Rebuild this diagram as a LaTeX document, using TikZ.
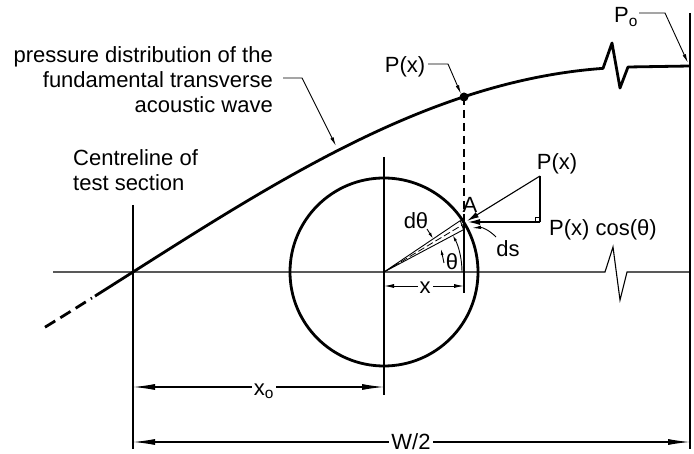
\documentclass[tikz,border=0pt]{standalone}
\usepackage{fontspec}
\setmainfont{Liberation Sans}
\usetikzlibrary{arrows.meta}
\begin{document}
\begin{tikzpicture}[x=1pt,y=-1pt,
  lbl/.style={inner sep=0pt,font=\fontsize{22}{25}\selectfont},
  thinline/.style={line width=1.1pt},
  heavy/.style={line width=2.8pt,line join=round},
  leader/.style={line width=0.9pt,-{Latex[length=9pt,width=3.5pt]}},
  force/.style={line width=1.1pt,-{Latex[length=12pt,width=6pt]}},
  dimline/.style={line width=1.1pt,{Latex[length=22pt,width=6pt]}-{Latex[length=22pt,width=6pt]}},
  smallarrow/.style={line width=0.9pt,-{Latex[length=6pt,width=3pt]}},
  gap/.style={lbl,fill=white,inner sep=2pt}]
\useasboundingbox (0,0) rectangle (694,454);

% key points
\coordinate (C) at (384,272);
\coordinate (A) at (464,222);
\coordinate (dot) at (464,97);
\coordinate (axL) at (53,272);
\coordinate (axR) at (690,272);
\coordinate (clTop) at (133,205);
\coordinate (clBot) at (133,449);
\coordinate (rTop) at (690,13);
\coordinate (rBot) at (690,449);
\coordinate (cTop) at (384,157);
\coordinate (cBot) at (384,395);
\coordinate (xBot) at (464,293);

% axis with break
\draw[thinline] (axL) -- (605,272) -- (613,247) -- (620,300) -- (627,272) -- (axR);
% verticals
\draw[thinline] (clTop) -- (clBot);
\draw[thinline] (rTop) -- (rBot);
\draw[thinline] (cTop) -- (cBot);

% circle
\draw[heavy] (C) circle[radius=94];

% pressure curve
\draw[heavy] plot[domain=95:603,samples=90] (\x,{272-205*sin(0.1775*(\x-133))})
  -- (612,43) -- (620,88) -- (628,67) -- (690,66);
\draw[heavy,dash pattern=on 12pt off 6pt] plot[domain=45:92,samples=10] (\x,{272-205*sin(0.1775*(\x-133))});
\fill (dot) circle[radius=4.5];

% projection of the point
\draw[thinline,dash pattern=on 8pt off 5pt] (dot) -- (A);
\draw[thinline] (A) -- (xBot);

% wedge
\coordinate (wU) at (460.3,220.6);
\coordinate (wL) at (463.5,229.7);
\coordinate (wM) at (462.9,224.6);
\draw[line width=0.9pt] (C) -- (wU) -- (wL) -- (C);
\draw[line width=0.8pt,dash pattern=on 7pt off 3pt] (C) -- (wM);

% theta arc
\draw[smallarrow] (462,272) arc[start angle=0,end angle=-28,radius=78];
\node[lbl] (th) at (452,262) {θ};

% d theta
\node[lbl] (dth) at (416,221) {dθ};
\coordinate (dt1s) at (427,229);
\coordinate (dt1e) at (433,238.5);
\coordinate (dt2s) at (444,263);
\coordinate (dt2e) at (441,249);
\draw[smallarrow] (dt1s) -- (dt1e);
\draw[smallarrow] (dt2s) -- (dt2e);

% force triangle
\coordinate (T) at (540,176);
\coordinate (R) at (540,222);
\coordinate (Af) at (467,221);
\coordinate (Ah) at (468,222);
\draw[thinline] (T) -- (R);
\draw[force] (T) -- (Af);
\draw[force] (R) -- (Ah);
\draw[line width=0.8pt] (535,222) -- (535,217) -- (540,217);
\node[lbl] (Pt) at (557,164) {P(x)};
\node[lbl,anchor=west] (Pc) at (549,230) {P(x) cos(θ)};
\node[lbl] (Alab) at (470,205) {A};

% ds
\node[lbl] (ds) at (508,249) {ds};
\coordinate (dss) at (496,237);
\coordinate (dse) at (472,228);
\draw[leader] (dss) to[bend right=25] (dse);

% x dimension
\draw[line width=0.9pt,{Latex[length=10pt,width=4pt]}-{Latex[length=10pt,width=4pt]}] (384,286) -- (464,286);
\node[gap] (xl) at (425,288) {x};

% labels with leaders
\node[lbl,align=right,anchor=east] (pd) at (273,80) {pressure distribution of the\\fundamental transverse\\acoustic wave};
\coordinate (pd1) at (283,78);
\coordinate (pd2) at (302,78);
\coordinate (pd3) at (336,146);
\draw[leader] (pd1) -- (pd2) -- (pd3);

\node[lbl,align=left,anchor=west] (cl) at (73,170) {Centreline of\\test section};

\node[lbl] (Px) at (405,67) {P(x)};
\coordinate (px1) at (428,64);
\coordinate (px2) at (448,64);
\coordinate (px3) at (461,94);
\draw[leader] (px1) -- (px2) -- (px3);

\node[lbl] (Po) at (626,17) {P\textsubscript{o}};
\coordinate (po1) at (639,13);
\coordinate (po2) at (665,13);
\coordinate (po3) at (688,63);
\draw[leader] (po1) -- (po2) -- (po3);

% dimensions
\coordinate (d1a) at (133,387);
\coordinate (d1b) at (384,387);
\draw[dimline] (d1a) -- (d1b);
\node[gap] (xo) at (264,391) {x\textsubscript{o}};
\coordinate (d2a) at (133,442);
\coordinate (d2b) at (690,442);
\draw[dimline] (d2a) -- (d2b);
\node[gap] (w2) at (411,442) {W/2};
\end{tikzpicture}
\end{document}
